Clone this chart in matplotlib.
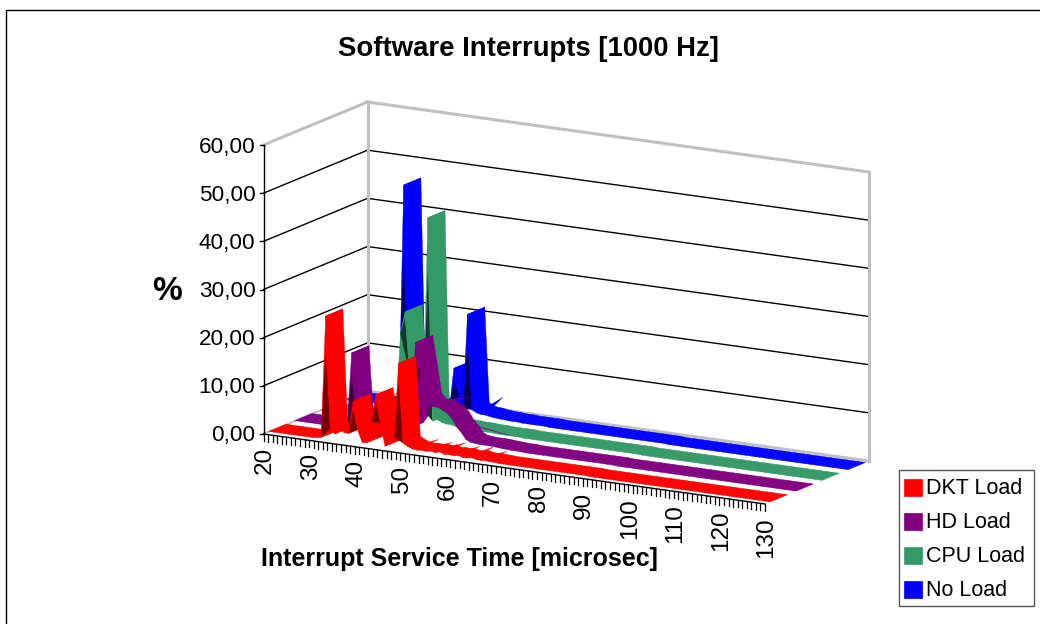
"""
Software interrupts chart, 3D ribbon look done with an oblique projection.
"""

import matplotlib
matplotlib.use('Agg')
import matplotlib.pyplot as plt
from matplotlib.patches import Polygon, Rectangle

plt.rcParams['font.family'] = ['Liberation Sans', 'DejaVu Sans']

TITLE = 'Software Interrupts [1000 Hz]'
X_LABEL = 'Interrupt Service Time [microsec]'
Y_TICKS = [0, 10, 20, 30, 40, 50, 60]
X_TICK_LABELS = [20, 30, 40, 50, 60, 70, 80, 90, 100, 110, 120, 130]
SERIES_NAMES = ['DKT Load', 'HD Load', 'CPU Load', 'No Load']
SERIES_COLORS = ['#ff0000', '#800080', '#339966', '#0000ff']
DARK_COLORS = ['#7a0000', '#3c003c', '#123a26', '#00005c']

# one value per microsecond, 20 ... 129
dkt_load = [0.1, 0.1, 0.1, 0.1, 0.1, 0.1, 0.1, 0.1, 0.1, 0.1,
            0.2, 0.4, 25.7, 2.5, 1.5, 3.0, 2.0, 2.0, 8.8, 3.0,
            0.5, 0.6, 5.0, 10.8, 5.0, 0.4, 1.0, 2.5, 18.0, 1.5,
            1.0, 0.6, 0.5, 0.6, 0.5, 0.7, 0.5, 0.8, 0.4, 0.5,
            0.4, 0.6, 0.3, 0.3, 0.5, 0.3, 0.2, 0.3, 0.2, 0.2,
            0.1, 0.1, 0.1, 0.1, 0.1, 0.1, 0.1, 0.1, 0.1, 0.1,
            0.1, 0.1, 0.1, 0.1, 0.1, 0.1, 0.1, 0.1, 0.1, 0.1,
            0.0, 0.0, 0.0, 0.0, 0.0, 0.0, 0.0, 0.0, 0.0, 0.0,
            0.0, 0.0, 0.0, 0.0, 0.0, 0.0, 0.0, 0.0, 0.0, 0.0,
            0.0, 0.0, 0.0, 0.0, 0.0, 0.0, 0.0, 0.0, 0.0, 0.0,
            0.0, 0.0, 0.0, 0.0, 0.0, 0.0, 0.0, 0.0, 0.0, 0.0]
hd_load = [0.1, 0.1, 0.1, 0.1, 0.1, 0.1, 0.1, 0.1, 0.1, 0.1,
           0.3, 0.5, 15.8, 2.0, 1.0, 1.5, 0.8, 1.0, 1.5, 1.0,
           1.0, 1.5, 1.5, 2.0, 1.5, 3.0, 19.8, 14.0, 8.0, 7.0,
           7.0, 7.0, 6.5, 6.0, 5.0, 3.5, 2.5, 1.2, 0.7, 0.6,
           0.5, 0.5, 0.5, 0.5, 0.4, 0.3, 0.3, 0.2, 0.2, 0.2,
           0.1, 0.1, 0.1, 0.1, 0.1, 0.1, 0.1, 0.1, 0.1, 0.1,
           0.1, 0.1, 0.1, 0.1, 0.1, 0.1, 0.1, 0.1, 0.1, 0.1,
           0.0, 0.0, 0.0, 0.0, 0.0, 0.0, 0.0, 0.0, 0.0, 0.0,
           0.0, 0.0, 0.0, 0.0, 0.0, 0.0, 0.0, 0.0, 0.0, 0.0,
           0.0, 0.0, 0.0, 0.0, 0.0, 0.0, 0.0, 0.0, 0.0, 0.0,
           0.0, 0.0, 0.0, 0.0, 0.0, 0.0, 0.0, 0.0, 0.0, 0.0]
cpu_load = [0.1, 0.1, 0.1, 0.1, 0.1, 0.1, 0.1, 0.1, 0.1, 0.1,
            0.2, 0.4, 1.0, 0.8, 0.6, 0.6, 1.0, 18.3, 22.9, 10.0,
            3.0, 2.0, 3.0, 43.1, 1.0, 1.5, 1.0, 0.8, 0.8, 0.6,
            0.5, 0.5, 0.4, 0.4, 0.4, 0.3, 0.3, 0.3, 0.2, 0.2,
            0.2, 0.2, 0.2, 0.2, 0.1, 0.1, 0.1, 0.1, 0.1, 0.1,
            0.1, 0.1, 0.1, 0.1, 0.1, 0.1, 0.1, 0.1, 0.1, 0.1,
            0.1, 0.1, 0.1, 0.1, 0.1, 0.1, 0.1, 0.1, 0.1, 0.1,
            0.0, 0.0, 0.0, 0.0, 0.0, 0.0, 0.0, 0.0, 0.0, 0.0,
            0.0, 0.0, 0.0, 0.0, 0.0, 0.0, 0.0, 0.0, 0.0, 0.0,
            0.0, 0.0, 0.0, 0.0, 0.0, 0.0, 0.0, 0.0, 0.0, 0.0,
            0.0, 0.0, 0.0, 0.0, 0.0, 0.0, 0.0, 0.0, 0.0, 0.0]
no_load = [0.1, 0.1, 0.1, 0.1, 0.1, 0.1, 0.1, 0.1, 0.1, 0.1,
           0.3, 0.6, 46.2, 2.0, 1.0, 1.0, 1.0, 1.0, 1.5, 1.0,
           1.0, 1.0, 0.8, 9.6, 4.0, 1.5, 21.2, 1.5, 1.0, 0.8,
           0.8, 0.6, 0.5, 0.4, 0.4, 0.3, 0.3, 0.3, 0.2, 0.2,
           0.2, 0.2, 0.2, 0.2, 0.1, 0.1, 0.1, 0.1, 0.1, 0.1,
           0.1, 0.1, 0.1, 0.1, 0.1, 0.1, 0.1, 0.1, 0.1, 0.1,
           0.1, 0.1, 0.1, 0.1, 0.1, 0.1, 0.1, 0.1, 0.1, 0.1,
           0.0, 0.0, 0.0, 0.0, 0.0, 0.0, 0.0, 0.0, 0.0, 0.0,
           0.0, 0.0, 0.0, 0.0, 0.0, 0.0, 0.0, 0.0, 0.0, 0.0,
           0.0, 0.0, 0.0, 0.0, 0.0, 0.0, 0.0, 0.0, 0.0, 0.0,
           0.0, 0.0, 0.0, 0.0, 0.0, 0.0, 0.0, 0.0, 0.0, 0.0]
SERIES = [dkt_load, hd_load, cpu_load, no_load]

# thin jagged tips on the back edge of a ribbon: start and tip microsec, tip percent
dkt_spikes_from = [51, 54, 57, 60, 63, 66]
dkt_spikes_x = [53, 56, 59, 62, 65, 68]
dkt_spikes_y = [1.4, 1.2, 1.5, 1.1, 1.4, 0.9]
hd_spikes_from = [49, 55]
hd_spikes_x = [54, 63]
hd_spikes_y = [8.2, 1.3]
cpu_spikes_from = []
cpu_spikes_x = []
cpu_spikes_y = []
no_spikes_from = [48]
no_spikes_x = [50]
no_spikes_y = [3.0]
SPIKES_FROM = [dkt_spikes_from, hd_spikes_from, cpu_spikes_from, no_spikes_from]
SPIKES_X = [dkt_spikes_x, hd_spikes_x, cpu_spikes_x, no_spikes_x]
SPIKES_Y = [dkt_spikes_y, hd_spikes_y, cpu_spikes_y, no_spikes_y]

X_MIN, X_MAX = 20, 130
Y_MAX = 60
GRAY = '#c0c0c0'


def project(x, y, depth=0.0):
    """Oblique projection of (microsec, percent, depth 0..1) to pixels."""
    sx = 263.5 + (x - X_MIN) * 501.5 / (X_MAX - X_MIN) + depth * 104
    sy = 434 + (x - X_MIN) * 70 / (X_MAX - X_MIN) - y * 289 / Y_MAX - depth * 43
    return sx, sy


def line3d(ax, p0, p1, color='black', lw=1.0, z=1):
    (x0, y0), (x1, y1) = project(*p0), project(*p1)
    ax.plot([x0, x1], [y0, y1], color=color, lw=lw, zorder=z,
            solid_capstyle='projecting')


def draw_ribbon(ax, values, d0, d1, color, dark, z):
    xs = [X_MIN] + [X_MIN + i + 0.5 for i in range(len(values))] + [X_MAX]
    ys = [values[0]] + list(values) + [values[-1]]
    for i in range(len(xs) - 1):
        quad = [project(xs[i], ys[i], d0), project(xs[i + 1], ys[i + 1], d0),
                project(xs[i + 1], ys[i + 1], d1), project(xs[i], ys[i], d1)]
        ax.add_patch(Polygon(quad, closed=True, fc=color, ec=color, lw=0.3, zorder=z))
        # inside of a steep peak shows through the front opening
        if ys[i + 1] - ys[i] > 4 and i + 2 < len(xs) and ys[i + 2] < ys[i + 1]:
            apex = ys[i] + 0.72 * (ys[i + 1] - ys[i])
            tri = [project(xs[i], ys[i], d0),
                   project(xs[i + 1], apex, d0),
                   project(xs[i + 2], ys[i + 2], d0)]
            ax.add_patch(Polygon(tri, closed=True, fc=dark, ec='none', zorder=z))


def draw_spikes(ax, values, spike_from, spike_x, spike_y, d0, d1, color, z):
    mid = d0 + 0.5 * (d1 - d0)
    for x0, x, v in zip(spike_from, spike_x, spike_y):
        base = values[x0 - X_MIN]
        tri = [project(x0, base, mid), project(x0 + 1.5, base, mid),
               project(x + 0.5, v, d1)]
        ax.add_patch(Polygon(tri, closed=True, fc=color, ec=color, lw=0.2, zorder=z))


fig = plt.figure(figsize=(10.4, 6.24), dpi=100)
ax = fig.add_axes([0, 0, 1, 1])
ax.set_xlim(0, 1040)
ax.set_ylim(624, 0)
ax.axis('off')

# outer frame of the chart object
ax.plot([5.8, 5.8, 1040], [624, 9.8, 9.8], color='black', lw=1.0, zorder=1)

# grid on back and side wall
for v in Y_TICKS[1:-1]:
    line3d(ax, (X_MIN, v, 0), (X_MIN, v, 1))
    line3d(ax, (X_MIN, v, 1), (X_MAX, v, 1))

# gray walls outline
line3d(ax, (X_MIN, Y_MAX, 0), (X_MIN, Y_MAX, 1), GRAY, 2.2, 2)
line3d(ax, (X_MIN, Y_MAX, 1), (X_MAX, Y_MAX, 1), GRAY, 2.2, 2)
line3d(ax, (X_MIN, 0, 1), (X_MIN, Y_MAX, 1), GRAY, 2.2, 2)
line3d(ax, (X_MAX, 0, 1), (X_MAX, Y_MAX, 1), GRAY, 2.2, 2)
line3d(ax, (X_MIN, 0, 1), (X_MAX, 0, 1), GRAY, 2.2, 2)
line3d(ax, (X_MIN, 0, 0), (X_MIN, 0, 1), GRAY, 1.5, 2)

# axes
line3d(ax, (X_MIN, 0, 0), (X_MIN, Y_MAX, 0), z=3)
line3d(ax, (X_MIN, 0, 0), (X_MAX, 0, 0), z=3)
for v in Y_TICKS:
    sx, sy = project(X_MIN, v)
    ax.plot([sx - 4, sx], [sy, sy], color='black', lw=1.0, zorder=3)
    ax.text(sx - 8, sy + 2, f'{v:.2f}'.replace('.', ','), ha='right', va='center',
            fontsize=16.2)
for x in range(X_MIN, X_MAX + 1):
    sx, sy = project(x, 0)
    ax.plot([sx, sx], [sy, sy + 7], color='black', lw=0.9, zorder=3)
for x in X_TICK_LABELS:
    sx, sy = project(x, 0)
    ax.text(sx + 1.5, sy + 13, str(x), rotation=90, ha='center', va='top', fontsize=17.5)

# ribbons, back to front
for idx in range(len(SERIES) - 1, -1, -1):
    d0 = 0.05 + 0.25 * idx
    d1 = d0 + 0.165
    z = 10 + 2 * (len(SERIES) - idx)
    draw_ribbon(ax, SERIES[idx], d0, d1, SERIES_COLORS[idx], DARK_COLORS[idx], z)
    draw_spikes(ax, SERIES[idx], SPIKES_FROM[idx], SPIKES_X[idx], SPIKES_Y[idx], d0, d1,
                SERIES_COLORS[idx], z + 1)

ax.text(528, 48.5, TITLE, ha='center', va='center', fontsize=19.8, fontweight='bold')
ax.text(459, 559, X_LABEL, ha='center', va='center', fontsize=18, fontweight='bold')
ax.text(167, 291, '%', ha='center', va='center', fontsize=24, fontweight='bold')

# legend
ax.add_patch(Rectangle((899, 470), 135, 136, fc='white', ec='#555555', lw=1.0, zorder=30))
for i, name in enumerate(SERIES_NAMES):
    yc = 487 + i * 34
    ax.add_patch(Rectangle((904, yc - 8.5), 18, 17, fc=SERIES_COLORS[i],
                           ec=SERIES_COLORS[i], lw=0.5, zorder=31))
    ax.text(926, yc + 2, name, ha='left', va='center', fontsize=15.5, zorder=31)

fig.savefig('out.png', dpi=100)
plt.close(fig)
